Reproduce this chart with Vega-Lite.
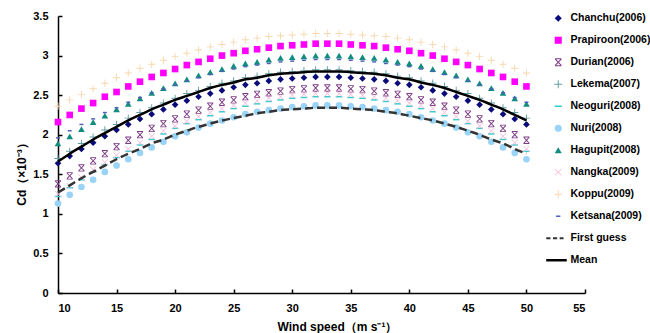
{
  "$schema": "https://vega.github.io/schema/vega-lite/v6.json",
  "width": 527,
  "height": 277,
  "autosize": {"type": "none"},
  "padding": {"left": 58, "top": 16, "right": 65, "bottom": 40},
  "background": "white",
  "config": {
    "view": {"stroke": null},
    "font": "Liberation Sans",
    "axis": {
      "domainColor": "black", "domainWidth": 1.5, "tickColor": "black", "tickWidth": 1.5,
      "tickSize": -4, "labelFont": "Liberation Sans", "labelFontWeight": "bold", "labelFontSize": 11,
      "labelColor": "black", "titleFont": "Liberation Sans", "titleFontWeight": "bold", "titleFontSize": 12,
      "titleColor": "black", "grid": false
    },
    "legend": {
      "labelFont": "Liberation Sans", "labelFontWeight": "bold", "labelFontSize": 10.5, "labelColor": "black"
    }
  },
  "data": {"values": [
    {"U":10,"C":1.64,"P":2.16,"D":1.38,"L":1.70,"Ne":1.22,"Nu":1.13,"H":1.89,"Na":1.25,"K":2.36,"Ke":1.96,"FG":1.27,"M":1.66},
    {"U":11,"C":1.73,"P":2.25,"D":1.48,"L":1.79,"Ne":1.33,"Nu":1.24,"H":1.98,"Na":1.35,"K":2.44,"Ke":2.05,"FG":1.36,"M":1.76},
    {"U":12,"C":1.82,"P":2.33,"D":1.58,"L":1.89,"Ne":1.43,"Nu":1.34,"H":2.07,"Na":1.46,"K":2.51,"Ke":2.13,"FG":1.45,"M":1.85},
    {"U":13,"C":1.90,"P":2.40,"D":1.67,"L":1.97,"Ne":1.53,"Nu":1.43,"H":2.16,"Na":1.56,"K":2.58,"Ke":2.20,"FG":1.53,"M":1.94},
    {"U":14,"C":1.98,"P":2.48,"D":1.76,"L":2.06,"Ne":1.62,"Nu":1.53,"H":2.24,"Na":1.65,"K":2.65,"Ke":2.28,"FG":1.61,"M":2.02},
    {"U":15,"C":2.06,"P":2.54,"D":1.85,"L":2.13,"Ne":1.71,"Nu":1.61,"H":2.32,"Na":1.74,"K":2.72,"Ke":2.34,"FG":1.69,"M":2.10},
    {"U":16,"C":2.13,"P":2.61,"D":1.93,"L":2.21,"Ne":1.79,"Nu":1.69,"H":2.39,"Na":1.82,"K":2.78,"Ke":2.41,"FG":1.76,"M":2.18},
    {"U":17,"C":2.20,"P":2.67,"D":2.00,"L":2.28,"Ne":1.87,"Nu":1.77,"H":2.46,"Na":1.90,"K":2.84,"Ke":2.47,"FG":1.82,"M":2.25},
    {"U":18,"C":2.26,"P":2.73,"D":2.08,"L":2.34,"Ne":1.94,"Nu":1.84,"H":2.53,"Na":1.98,"K":2.89,"Ke":2.53,"FG":1.89,"M":2.32},
    {"U":19,"C":2.32,"P":2.78,"D":2.14,"L":2.40,"Ne":2.01,"Nu":1.91,"H":2.59,"Na":2.05,"K":2.94,"Ke":2.58,"FG":1.94,"M":2.38},
    {"U":20,"C":2.38,"P":2.83,"D":2.20,"L":2.46,"Ne":2.08,"Nu":1.98,"H":2.65,"Na":2.11,"K":2.99,"Ke":2.63,"FG":2.00,"M":2.44},
    {"U":21,"C":2.43,"P":2.88,"D":2.26,"L":2.52,"Ne":2.14,"Nu":2.03,"H":2.70,"Na":2.17,"K":3.03,"Ke":2.68,"FG":2.05,"M":2.49},
    {"U":22,"C":2.48,"P":2.92,"D":2.31,"L":2.56,"Ne":2.19,"Nu":2.09,"H":2.75,"Na":2.23,"K":3.07,"Ke":2.72,"FG":2.10,"M":2.54},
    {"U":23,"C":2.52,"P":2.96,"D":2.36,"L":2.61,"Ne":2.24,"Nu":2.14,"H":2.79,"Na":2.28,"K":3.11,"Ke":2.76,"FG":2.14,"M":2.59},
    {"U":24,"C":2.56,"P":3.00,"D":2.41,"L":2.65,"Ne":2.29,"Nu":2.18,"H":2.83,"Na":2.33,"K":3.14,"Ke":2.80,"FG":2.18,"M":2.63},
    {"U":25,"C":2.60,"P":3.03,"D":2.44,"L":2.68,"Ne":2.33,"Nu":2.22,"H":2.87,"Na":2.37,"K":3.17,"Ke":2.83,"FG":2.21,"M":2.66},
    {"U":26,"C":2.63,"P":3.06,"D":2.48,"L":2.72,"Ne":2.36,"Nu":2.26,"H":2.90,"Na":2.40,"K":3.20,"Ke":2.86,"FG":2.24,"M":2.70},
    {"U":27,"C":2.65,"P":3.08,"D":2.51,"L":2.74,"Ne":2.39,"Nu":2.29,"H":2.92,"Na":2.43,"K":3.22,"Ke":2.88,"FG":2.27,"M":2.72},
    {"U":28,"C":2.68,"P":3.10,"D":2.53,"L":2.77,"Ne":2.42,"Nu":2.31,"H":2.95,"Na":2.46,"K":3.24,"Ke":2.90,"FG":2.29,"M":2.75},
    {"U":29,"C":2.70,"P":3.12,"D":2.55,"L":2.79,"Ne":2.44,"Nu":2.33,"H":2.97,"Na":2.48,"K":3.25,"Ke":2.92,"FG":2.31,"M":2.77},
    {"U":30,"C":2.71,"P":3.13,"D":2.57,"L":2.80,"Ne":2.46,"Nu":2.35,"H":2.98,"Na":2.50,"K":3.26,"Ke":2.93,"FG":2.32,"M":2.78},
    {"U":31,"C":2.72,"P":3.14,"D":2.58,"L":2.81,"Ne":2.47,"Nu":2.36,"H":2.99,"Na":2.51,"K":3.27,"Ke":2.94,"FG":2.33,"M":2.79},
    {"U":32,"C":2.73,"P":3.15,"D":2.59,"L":2.82,"Ne":2.48,"Nu":2.37,"H":3.00,"Na":2.52,"K":3.28,"Ke":2.95,"FG":2.34,"M":2.80},
    {"U":33,"C":2.73,"P":3.15,"D":2.59,"L":2.82,"Ne":2.48,"Nu":2.37,"H":3.00,"Na":2.52,"K":3.28,"Ke":2.95,"FG":2.34,"M":2.80},
    {"U":34,"C":2.73,"P":3.15,"D":2.59,"L":2.82,"Ne":2.48,"Nu":2.37,"H":3.00,"Na":2.52,"K":3.28,"Ke":2.95,"FG":2.34,"M":2.80},
    {"U":35,"C":2.72,"P":3.14,"D":2.58,"L":2.81,"Ne":2.47,"Nu":2.36,"H":2.99,"Na":2.51,"K":3.27,"Ke":2.94,"FG":2.33,"M":2.79},
    {"U":36,"C":2.71,"P":3.13,"D":2.57,"L":2.80,"Ne":2.46,"Nu":2.35,"H":2.98,"Na":2.50,"K":3.26,"Ke":2.93,"FG":2.32,"M":2.78},
    {"U":37,"C":2.70,"P":3.12,"D":2.55,"L":2.79,"Ne":2.44,"Nu":2.33,"H":2.97,"Na":2.48,"K":3.25,"Ke":2.92,"FG":2.31,"M":2.77},
    {"U":38,"C":2.68,"P":3.10,"D":2.53,"L":2.77,"Ne":2.42,"Nu":2.31,"H":2.95,"Na":2.46,"K":3.24,"Ke":2.90,"FG":2.29,"M":2.75},
    {"U":39,"C":2.65,"P":3.08,"D":2.51,"L":2.74,"Ne":2.39,"Nu":2.29,"H":2.92,"Na":2.43,"K":3.22,"Ke":2.88,"FG":2.27,"M":2.72},
    {"U":40,"C":2.63,"P":3.06,"D":2.48,"L":2.72,"Ne":2.36,"Nu":2.26,"H":2.90,"Na":2.40,"K":3.20,"Ke":2.86,"FG":2.24,"M":2.70},
    {"U":41,"C":2.60,"P":3.03,"D":2.44,"L":2.68,"Ne":2.33,"Nu":2.22,"H":2.87,"Na":2.37,"K":3.17,"Ke":2.83,"FG":2.21,"M":2.66},
    {"U":42,"C":2.56,"P":3.00,"D":2.41,"L":2.65,"Ne":2.29,"Nu":2.18,"H":2.83,"Na":2.33,"K":3.14,"Ke":2.80,"FG":2.18,"M":2.63},
    {"U":43,"C":2.52,"P":2.96,"D":2.36,"L":2.61,"Ne":2.24,"Nu":2.14,"H":2.79,"Na":2.28,"K":3.11,"Ke":2.76,"FG":2.14,"M":2.59},
    {"U":44,"C":2.48,"P":2.92,"D":2.31,"L":2.56,"Ne":2.19,"Nu":2.09,"H":2.75,"Na":2.23,"K":3.07,"Ke":2.72,"FG":2.10,"M":2.54},
    {"U":45,"C":2.43,"P":2.88,"D":2.26,"L":2.52,"Ne":2.14,"Nu":2.03,"H":2.70,"Na":2.17,"K":3.03,"Ke":2.68,"FG":2.05,"M":2.49},
    {"U":46,"C":2.38,"P":2.83,"D":2.20,"L":2.46,"Ne":2.08,"Nu":1.98,"H":2.65,"Na":2.11,"K":2.99,"Ke":2.63,"FG":2.00,"M":2.44},
    {"U":47,"C":2.32,"P":2.78,"D":2.14,"L":2.40,"Ne":2.01,"Nu":1.91,"H":2.59,"Na":2.05,"K":2.94,"Ke":2.58,"FG":1.94,"M":2.38},
    {"U":48,"C":2.26,"P":2.73,"D":2.08,"L":2.34,"Ne":1.94,"Nu":1.84,"H":2.53,"Na":1.98,"K":2.89,"Ke":2.53,"FG":1.89,"M":2.32},
    {"U":49,"C":2.20,"P":2.67,"D":2.00,"L":2.28,"Ne":1.87,"Nu":1.77,"H":2.46,"Na":1.90,"K":2.84,"Ke":2.47,"FG":1.82,"M":2.25},
    {"U":50,"C":2.13,"P":2.61,"D":1.93,"L":2.21,"Ne":1.79,"Nu":1.69,"H":2.39,"Na":1.82,"K":2.78,"Ke":2.41,"FG":1.76,"M":2.18}
  ]},
  "transform": [
    {"fold": ["C","P","D","L","Ne","Nu","H","Na","K","Ke","FG","M"], "as": ["series","value"]}
  ],
  "encoding": {
    "x": {"field": "U", "type": "quantitative",
      "scale": {"domain": [10, 55], "nice": false, "zero": false},
      "axis": {"values": [10,15,20,25,30,35,40,45,50,55], "labelPadding": 13,
        "title": "Wind speed（m s⁻¹）", "titleX": 279, "titleY": 33, "titleAlign": "center", "titleBaseline": "middle"}},
    "y": {"field": "value", "type": "quantitative",
      "scale": {"domain": [0, 3.5], "nice": false},
      "axis": {"values": [0,0.5,1,1.5,2,2.5,3,3.5], "format": "~g", "labelPadding": 14,
        "title": "Cd（×10⁻³）", "titleX": -37, "titleY": 155, "titleAngle": -90, "titleAlign": "center", "titleBaseline": "middle"}}
  },
  "layer": [
    {
      "transform": [{"filter": "datum.series !== 'FG' && datum.series !== 'M'"}],
      "mark": {"type": "point", "filled": true, "opacity": 1, "size": 44, "strokeWidth": 0},
      "encoding": {
        "color": {"field": "series", "type": "nominal",
          "scale": {"domain": ["C","P","D","L","Ne","Nu","H","Na","K","Ke","FG","M"],
            "range": ["#0A0A78","#FF00FF","#7D3C86","#5F9EA0","#33CCCC","#99D3F5","#128C7E","#F4B8D8","#F8D8AE","#4F5FB8","#333333","#000000"]},
          "legend": {"orient": "none", "legendX": 495, "legendY": -3, "title": null, "symbolSize": 50,
            "rowPadding": 11, "labelOffset": 7, "labelLimit": 300, "padding": 0, "symbolStrokeWidth": 0,
            "labelExpr": "datum.label=='C'?'Chanchu(2006)':datum.label=='P'?'Prapiroon(2006)':datum.label=='D'?'Durian(2006)':datum.label=='L'?'Lekema(2007)':datum.label=='Ne'?'Neoguri(2008)':datum.label=='Nu'?'Nuri(2008)':datum.label=='H'?'Hagupit(2008)':datum.label=='Na'?'Nangka(2009)':datum.label=='K'?'Koppu(2009)':datum.label=='Ke'?'Ketsana(2009)':datum.label=='FG'?'First guess':'Mean'"}},
        "shape": {"field": "series", "type": "nominal",
          "scale": {"domain": ["C","P","D","L","Ne","Nu","H","Na","K","Ke","FG","M"],
            "range": [
              "diamond",
              "square",
              "M-0.75,-1L0,-0.2L0.75,-1L0.95,-0.8L0.2,0L0.95,0.8L0.75,1L0,0.2L-0.75,1L-0.95,0.8L-0.2,0L-0.95,-0.8Z M-0.9,-1.1H0.9V-0.85H-0.9Z M-0.9,0.85H0.9V1.1H-0.9Z",
              "M-1.1,-0.14H1.1V0.14H-1.1Z M-0.14,-1.1H0.14V1.1H-0.14Z",
              "M-1,-0.22H1V0.22H-1Z",
              "circle",
              "triangle-up",
              "M-0.85,-1L0,-0.15L0.85,-1L1,-0.85L0.15,0L1,0.85L0.85,1L0,0.15L-0.85,1L-1,0.85L-0.15,0L-1,-0.85Z",
              "M-1.1,-0.14H1.1V0.14H-1.1Z M-0.14,-1.1H0.14V1.1H-0.14Z",
              "M-0.6,-0.22H0.6V0.22H-0.6Z",
              "M-3.4,-0.3H-2.2V0.3H-3.4Z M-1.5,-0.3H-0.3V0.3H-1.5Z M0.4,-0.3H1.5V0.3H0.4Z",
              "M-3.4,-0.35H2.4V0.35H-3.4Z"
            ]}}
      }
    },
    {
      "transform": [{"filter": "datum.series === 'FG'"}],
      "mark": {"type": "line", "color": "#333333", "strokeWidth": 2.5, "strokeDash": [8, 4], "interpolate": "monotone"},
      "encoding": {}
    },
    {
      "transform": [{"filter": "datum.series === 'M'"}],
      "mark": {"type": "line", "color": "#000000", "strokeWidth": 2.5, "interpolate": "monotone"},
      "encoding": {}
    }
  ]
}
